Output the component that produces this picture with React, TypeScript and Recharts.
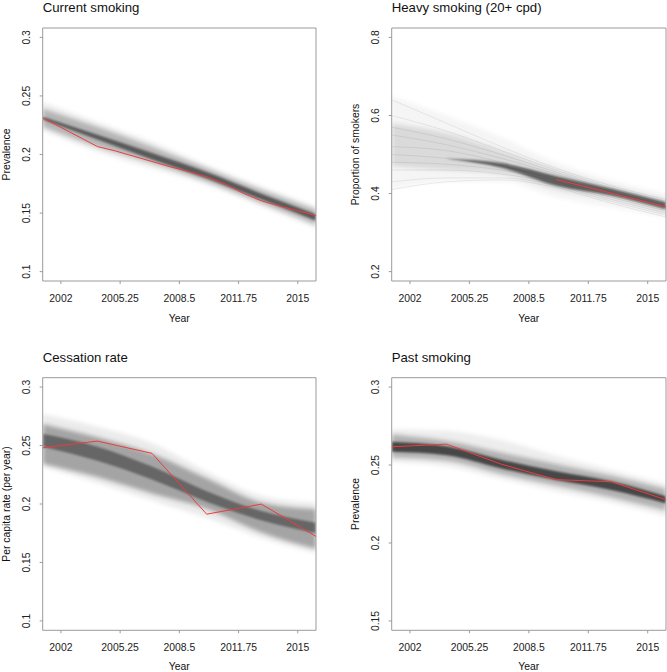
import React from "react";
import { Area, ComposedChart, Line, ReferenceArea, XAxis, YAxis } from "recharts";

// years at which the simulated envelopes were read off
const SIM_YEARS = [2001, 2004, 2007, 2010, 2013, 2016];
const X_TICKS = [2002, 2005.25, 2008.5, 2011.75, 2015];

type Band = ([number, number] | null)[];

// Current smoking: [low, high] of the faint halo, main band and dark core
const CUR_HALO: Band = [[0.2208, 0.2448], [0.2024, 0.2278], [0.1882, 0.2109], [0.1741, 0.191], [0.1557, 0.1727], [0.1373, 0.1557]];
const CUR_BAND: Band = [[0.2236, 0.2392], [0.2066, 0.2236], [0.1925, 0.2066], [0.1769, 0.1882], [0.1585, 0.1698], [0.1401, 0.1528]];
const CUR_CORE: Band = [[0.2298, 0.2322], [0.2128, 0.2168], [0.1958, 0.2012], [0.1795, 0.185], [0.1615, 0.1665], [0.1435, 0.149]];
const CUR_OBS_YEARS = [2001, 2002, 2003, 2004, 2005, 2006, 2007, 2008, 2009, 2010, 2011, 2012, 2013, 2014, 2015, 2016];
const CUR_OBS = [0.2312, 0.2231, 0.215, 0.2068, 0.203, 0.1985, 0.194, 0.1895, 0.1855, 0.181, 0.175, 0.167, 0.1605, 0.156, 0.152, 0.1478];

// Heavy smoking (20+ cpd)
const HEAVY_HALO: Band = [[0.41, 0.65], [0.43, 0.6], [0.43, 0.545], [0.39, 0.48], [0.365, 0.435], [0.338, 0.4]];
const HEAVY_BAND: Band = [[0.47, 0.58], [0.46, 0.555], [0.45, 0.51], [0.41, 0.46], [0.385, 0.42], [0.35, 0.385]];
const HEAVY_CORE: Band = [null, [0.489, 0.49], [0.466, 0.478], [0.42, 0.445], [0.395, 0.413], [0.36, 0.378]];
const HEAVY_RUNS = [
  [0.64, 0.58, 0.52, 0.465, 0.42, 0.385],
  [0.6, 0.56, 0.51, 0.46, 0.415, 0.38],
  [0.57, 0.54, 0.5, 0.455, 0.41, 0.375],
  [0.55, 0.525, 0.49, 0.45, 0.405, 0.37],
  [0.52, 0.51, 0.48, 0.44, 0.4, 0.365],
  [0.5, 0.49, 0.47, 0.435, 0.395, 0.36],
  [0.48, 0.475, 0.46, 0.43, 0.39, 0.355],
  [0.46, 0.46, 0.45, 0.425, 0.385, 0.35],
  [0.43, 0.44, 0.44, 0.42, 0.38, 0.345],
  [0.41, 0.43, 0.435, 0.415, 0.375, 0.34],
];
const HEAVY_OBS_YEARS = [2010, 2013, 2016];
const HEAVY_OBS = [0.436, 0.401, 0.366];

// Cessation rate
const CESS_HALO: Band = [[0.2316, 0.277], [0.218, 0.266], [0.203, 0.252], [0.188, 0.228], [0.171, 0.207], [0.158, 0.201]];
const CESS_BAND: Band = [[0.2345, 0.2684], [0.223, 0.257], [0.209, 0.243], [0.196, 0.222], [0.1757, 0.2013], [0.1616, 0.1956]];
const CESS_CORE: Band = [[0.249, 0.26], [0.237, 0.249], [0.221, 0.232], [0.202, 0.211], [0.186, 0.194], [0.175, 0.184]];
const CESS_OBS_YEARS = [2001, 2004, 2007, 2010, 2013, 2016];
const CESS_OBS = [0.248, 0.2538, 0.2433, 0.1913, 0.1999, 0.1723];

// Past smoking
const PAST_HALO: Band = [[0.252, 0.273], [0.249, 0.272], [0.241, 0.266], [0.233, 0.256], [0.226, 0.247], [0.217, 0.238]];
const PAST_BAND: Band = [[0.2549, 0.2698], [0.2527, 0.2655], [0.2443, 0.258], [0.2368, 0.2506], [0.2293, 0.2432], [0.2208, 0.2347]];
const PAST_CORE: Band = [[0.2585, 0.265], [0.2562, 0.262], [0.2478, 0.2534], [0.2404, 0.246], [0.234, 0.2396], [0.2254, 0.23]];
const PAST_OBS_YEARS = [2001, 2004, 2007, 2010, 2013, 2016];
const PAST_OBS = [0.2617, 0.2634, 0.2505, 0.2406, 0.2393, 0.2277];

const FONT = "'Liberation Sans', Arial, sans-serif";
const BOX = "#9a9a9a";
const RED = "#ee3b3b";

const YTick = (props: any) => {
  const { x, y, payload } = props;
  const tx = x - 9.7;
  return (
    <text x={tx} y={y} transform={`rotate(-90, ${tx}, ${y})`} textAnchor="middle" fontSize={10.4} fontFamily={FONT} fill="#222">
      {String(payload.value)}
    </text>
  );
};

const XTick = (props: any) => {
  const { x, y, payload } = props;
  return (
    <text x={x} y={y + 17.7} textAnchor="middle" fontSize={10.4} fontFamily={FONT} fill="#222">
      {String(payload.value)}
    </text>
  );
};

function Panel(props: {
  left: number;
  top: number;
  width: number;
  height: number;
  plot: { left: number; top: number; right: number; bottom: number };
  yDomain: [number, number];
  yTicks: number[];
  halo: Band;
  band: Band;
  core: Band;
  shade: [number, number, number];
  runs?: number[][];
  obsYears: number[];
  obs: number[];
}) {
  const { left, top, width, height, plot, yDomain, yTicks, halo, band, core, shade, runs = [], obsYears, obs } = props;
  const simData = SIM_YEARS.map((year, i) => {
    const row: Record<string, any> = { year, halo: halo[i], band: band[i], core: core[i] };
    runs.forEach((r, k) => (row[`run${k}`] = r[i]));
    return row;
  });
  const obsData = obsYears.map((year, i) => ({ year, obs: obs[i] }));

  return (
    <div style={{ position: "absolute", left, top, width, height }}>
      <ComposedChart
        width={width}
        height={height}
        data={simData}
        margin={{ top: plot.top, right: width - plot.right, bottom: 0, left: 0 }}
      >
        <XAxis
          type="number"
          dataKey="year"
          domain={[2001, 2016]}
          ticks={X_TICKS}
          interval={0}
          height={height - plot.bottom}
          tickSize={3}
          tickMargin={0}
          tick={<XTick />}
          axisLine={false}
          tickLine={{ stroke: BOX }}
          allowDataOverflow
        />
        <YAxis
          type="number"
          domain={yDomain}
          ticks={yTicks}
          interval={0}
          width={plot.left}
          tickSize={3}
          tickMargin={0}
          tick={<YTick />}
          axisLine={false}
          tickLine={{ stroke: BOX }}
          allowDataOverflow
        />
        <Area dataKey="halo" type="monotone" fill="#000" fillOpacity={shade[0]} stroke="none" filter="url(#softWide)" isAnimationActive={false} />
        <Area dataKey="band" type="monotone" fill="#000" fillOpacity={shade[1]} stroke="none" filter="url(#softWide)" isAnimationActive={false} />
        {runs.map((_, k) => (
          <Line
            key={k}
            dataKey={`run${k}`}
            type="monotone"
            stroke="#000"
            strokeOpacity={0.07}
            strokeWidth={1}
            dot={false}
            activeDot={false}
            isAnimationActive={false}
          />
        ))}
        <Area dataKey="core" type="monotone" fill="#000" fillOpacity={shade[2]} stroke="none" filter="url(#softNarrow)" isAnimationActive={false} />
        <Line
          data={obsData}
          dataKey="obs"
          type="linear"
          stroke={RED}
          strokeWidth={1}
          dot={false}
          activeDot={false}
          isAnimationActive={false}
        />
        <ReferenceArea
          x1={2001}
          x2={2016}
          y1={yDomain[0]}
          y2={yDomain[1]}
          fill="none"
          stroke={BOX}
          strokeWidth={1}
          ifOverflow="visible"
        />
      </ComposedChart>
    </div>
  );
}

export default function App() {
  const TOP_PLOT_L = { left: 42.7, top: 28, right: 316, bottom: 281 };
  const TOP_PLOT_R = { left: 58.7, top: 28, right: 333, bottom: 281 };
  const BOT_PLOT_L = { left: 42.7, top: 41.7, right: 316, bottom: 294.3 };
  const BOT_PLOT_R = { left: 58.7, top: 41.7, right: 333, bottom: 294.3 };
  const label = { fontFamily: FONT, fontSize: 10.4, fill: "#111" } as const;
  const title = { fontFamily: FONT, fontSize: 13.2, fill: "#111" } as const;

  return (
    <div style={{ position: "absolute", left: 0, top: 0, width: 667, height: 672, background: "#fff", overflow: "hidden" }}>
      <svg width={0} height={0} style={{ position: "absolute" }}>
        <defs>
          <filter id="softWide" filterUnits="userSpaceOnUse" x={-50} y={-50} width={800} height={800}>
            <feGaussianBlur stdDeviation={2.2} />
          </filter>
          <filter id="softNarrow" filterUnits="userSpaceOnUse" x={-50} y={-50} width={800} height={800}>
            <feGaussianBlur stdDeviation={1.3} />
          </filter>
        </defs>
      </svg>
      <Panel left={0} top={0} width={333} height={336} plot={TOP_PLOT_L} yDomain={[0.092, 0.308]} yTicks={[0.1, 0.15, 0.2, 0.25, 0.3]}
        halo={CUR_HALO} band={CUR_BAND} core={CUR_CORE} shade={[0.07, 0.24, 0.5]} obsYears={CUR_OBS_YEARS} obs={CUR_OBS} />
      <Panel left={333} top={0} width={334} height={336} plot={TOP_PLOT_R} yDomain={[0.176, 0.824]} yTicks={[0.2, 0.4, 0.6, 0.8]}
        halo={HEAVY_HALO} band={HEAVY_BAND} core={HEAVY_CORE} shade={[0.04, 0.11, 0.55]} runs={HEAVY_RUNS} obsYears={HEAVY_OBS_YEARS} obs={HEAVY_OBS} />
      <Panel left={0} top={336} width={333} height={336} plot={BOT_PLOT_L} yDomain={[0.092, 0.308]} yTicks={[0.1, 0.15, 0.2, 0.25, 0.3]}
        halo={CESS_HALO} band={CESS_BAND} core={CESS_CORE} shade={[0.08, 0.3, 0.38]} obsYears={CESS_OBS_YEARS} obs={CESS_OBS} />
      <Panel left={333} top={336} width={334} height={336} plot={BOT_PLOT_R} yDomain={[0.144, 0.306]} yTicks={[0.15, 0.2, 0.25, 0.3]}
        halo={PAST_HALO} band={PAST_BAND} core={PAST_CORE} shade={[0.07, 0.25, 0.6]} obsYears={PAST_OBS_YEARS} obs={PAST_OBS} />

      <svg width={667} height={672} style={{ position: "absolute", left: 0, top: 0, pointerEvents: "none" }}>
        <text x={42.7} y={11.8} {...title}>Current smoking</text>
        <text x={391.7} y={11.8} {...title}>Heavy smoking (20+ cpd)</text>
        <text x={42.7} y={361.5} {...title}>Cessation rate</text>
        <text x={391.7} y={361.5} {...title}>Past smoking</text>

        <text x={179.3} y={321.7} textAnchor="middle" {...label}>Year</text>
        <text x={528.8} y={321.7} textAnchor="middle" {...label}>Year</text>
        <text x={179.3} y={670.3} textAnchor="middle" {...label}>Year</text>
        <text x={528.8} y={670.3} textAnchor="middle" {...label}>Year</text>

        <text x={9.5} y={154.5} textAnchor="middle" transform="rotate(-90, 9.5, 154.5)" {...label}>Prevalence</text>
        <text x={358.5} y={154.5} textAnchor="middle" transform="rotate(-90, 358.5, 154.5)" {...label}>Proportion of smokers</text>
        <text x={9.5} y={504} textAnchor="middle" transform="rotate(-90, 9.5, 504)" {...label}>Per capita rate (per year)</text>
        <text x={358.5} y={504} textAnchor="middle" transform="rotate(-90, 358.5, 504)" {...label}>Prevalence</text>
      </svg>
    </div>
  );
}
